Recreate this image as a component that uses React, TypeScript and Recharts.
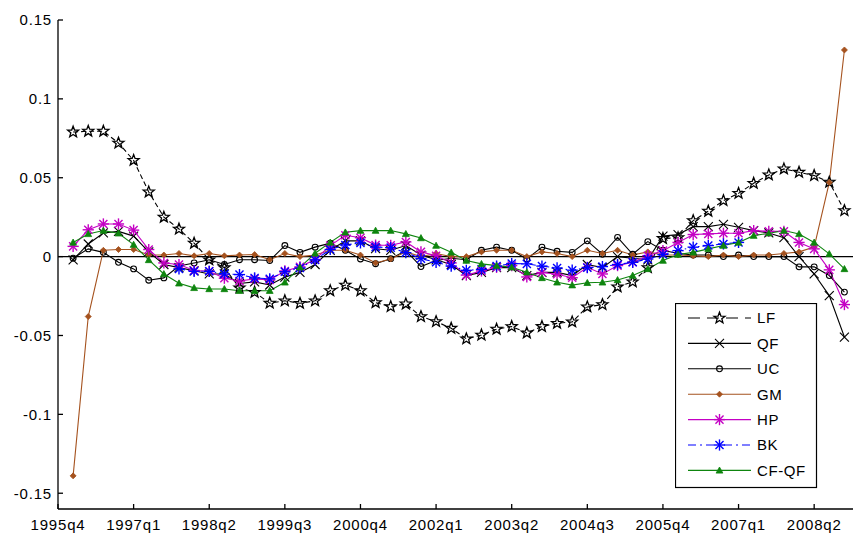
import React from 'react';
import { LineChart, Line, XAxis, YAxis, ReferenceLine, Legend } from 'recharts';

// quarter index 1 = 1996q1 (index 0 = 1995q4)
const quarterIndex = Array.from({ length: 52 }, (_, k) => k + 1);

const xTickPositions = [0, 5, 10, 15, 20, 25, 30, 35, 40, 45, 50];
const xTickLabels = ['1995q4', '1997q1', '1998q2', '1999q3', '2000q4', '2002q1', '2003q2', '2004q3', '2005q4', '2007q1', '2008q2'];
const yTicks = [-0.15, -0.1, -0.05, 0, 0.05, 0.1, 0.15];
const yTickLabels = ['-0.15', '-0.1', '-0.05', '0', '0.05', '0.1', '0.15'];

const lf = [0.079, 0.0795, 0.0795, 0.072, 0.061, 0.041, 0.025, 0.0175, 0.0085, -0.002,
  -0.007, -0.0198, -0.0226, -0.0295, -0.028, -0.0296, -0.028, -0.0216, -0.018, -0.0216,
  -0.0292, -0.0317, -0.030, -0.038, -0.0412, -0.0454, -0.0521, -0.0497, -0.046, -0.0443,
  -0.0484, -0.0443, -0.0423, -0.0414, -0.0319, -0.0304, -0.0192, -0.016, -0.007, 0.0115,
  0.012, 0.0228, 0.0288, 0.0355, 0.0401, 0.0465, 0.0518, 0.0556, 0.0535, 0.0514,
  0.0472, 0.0292];

const qf = [-0.002, 0.008, 0.015, 0.016, 0.013, 0.003, -0.005, -0.007, -0.009, -0.011,
  -0.011, -0.017, -0.016, -0.018, -0.013, -0.010, -0.005, 0.004, 0.010, 0.010,
  0.005, 0.004, 0.007, 0.001, -0.002, -0.005, -0.012, -0.010, -0.007, -0.007,
  -0.012, -0.010, -0.010, -0.012, -0.005, -0.007, 0.000, -0.001, -0.002, 0.013,
  0.014, 0.019, 0.019, 0.0205, 0.0186, 0.0165, 0.015, 0.012, 0.000, -0.011,
  -0.0247, -0.051];

const uc = [-0.001, 0.0049, 0.0027, -0.0036, -0.0078, -0.015, -0.0135, -0.006, -0.004, -0.002,
  -0.005, -0.002, -0.002, -0.0025, 0.007, 0.0027, 0.006, 0.0085, 0.004, -0.0015,
  -0.0045, -0.0013, 0.0038, -0.0063, -0.0025, -0.001, -0.002, 0.004, 0.006, 0.004,
  -0.0015, 0.006, 0.0034, 0.0027, 0.010, 0.0015, 0.0122, 0.0015, 0.0095, 0.004,
  0.002, 0.001, 0.001, 0.000, 0.001, 0.000, 0.000, 0.000, -0.0065, -0.0065,
  -0.012, -0.0225];

const gm = [-0.139, -0.038, 0.004, 0.0045, 0.0045, 0.001, 0.001, 0.002, 0.0005, 0.002,
  0.0005, 0.001, 0.0013, -0.002, 0.002, 0.000, 0.001, 0.004, 0.004, 0.001,
  -0.004, -0.0015, 0.003, 0.000, 0.002, 0.000, 0.000, 0.003, 0.004, 0.004,
  0.000, 0.003, 0.002, 0.000, 0.004, 0.002, 0.004, 0.001, 0.003, 0.001,
  0.001, 0.0005, 0.000, 0.001, 0.000, 0.001, 0.001, 0.002, 0.003, 0.006,
  0.047, 0.131];

const hp = [0.0065, 0.017, 0.0207, 0.0207, 0.0168, 0.0045, -0.004, -0.005, -0.0088, -0.0093,
  -0.0137, -0.0155, -0.0141, -0.0148, -0.0091, -0.0065, -0.0018, 0.007, 0.0135, 0.012,
  0.0073, 0.0072, 0.0093, 0.003, 0.0006, -0.004, -0.0117, -0.0091, -0.0068, -0.0057,
  -0.0129, -0.0101, -0.0112, -0.0134, -0.0068, -0.011, -0.0057, -0.0036, 0.0006, 0.0038,
  0.009, 0.014, 0.0144, 0.0148, 0.0148, 0.0165, 0.016, 0.016, 0.009, 0.0049,
  -0.0084, -0.0304];

const bk = [null, null, null, null, null, null, null, -0.0078, -0.0093, -0.0093,
  -0.011, -0.0114, -0.0135, -0.0141, -0.0096, -0.0072, -0.0021, 0.0045, 0.0074, 0.0087,
  0.006, 0.0057, 0.0025, -0.0013, -0.0036, -0.006, -0.0087, -0.0081, -0.006, -0.0044,
  -0.0046, -0.006, -0.0072, -0.0086, -0.007, -0.0063, -0.005, -0.0036, -0.0015, 0.0013,
  0.0038, 0.006, 0.007, 0.008, 0.009, null, null, null, null, null,
  null, null];

const cfqf = [0.009, 0.0144, 0.0165, 0.0148, 0.0076, -0.0021, -0.011, -0.0169, -0.0198, -0.0205,
  -0.0205, -0.0216, -0.0216, -0.0216, -0.0163, -0.0068, 0.0021, 0.009, 0.0154, 0.0165,
  0.0165, 0.0165, 0.0144, 0.0118, 0.007, 0.0027, -0.0025, -0.0046, -0.0057, -0.0068,
  -0.0099, -0.0135, -0.0163, -0.0181, -0.0166, -0.0163, -0.0148, -0.012, -0.0078, -0.0025,
  0.0013, 0.0027, 0.0049, 0.007, 0.009, 0.0133, 0.0148, 0.0165, 0.0144, 0.009,
  0.0017, -0.0078];

const seriesNames = ['LF', 'QF', 'UC', 'GM', 'HP', 'BK', 'CF-QF'];

const data = quarterIndex.map((t, k) => ({
  t,
  LF: lf[k],
  QF: qf[k],
  UC: uc[k],
  GM: gm[k],
  HP: hp[k],
  BK: bk[k],
  'CF-QF': cfqf[k],
}));

const BROWN = '#A5521E';
const MAGENTA = '#C400C4';
const BLUE = '#0000FF';
const GREEN = '#0E850E';

type MP = { cx: number; cy: number; color: string };

const StarM = ({ cx, cy, color }: MP) => {
  const R = 5.8;
  const r = R * 0.42;
  const pts: string[] = [];
  for (let k = 0; k < 10; k++) {
    const a = -Math.PI / 2 + (k * Math.PI) / 5;
    const rr = k % 2 === 0 ? R : r;
    pts.push(`${(cx + rr * Math.cos(a)).toFixed(2)},${(cy + rr * Math.sin(a)).toFixed(2)}`);
  }
  return <polygon points={pts.join(' ')} fill="none" stroke={color} strokeWidth={1.3} />;
};

const XM = ({ cx, cy, color }: MP) => {
  const h = 4.5;
  return (
    <g stroke={color} strokeWidth={1.1}>
      <line x1={cx - h} y1={cy - h} x2={cx + h} y2={cy + h} />
      <line x1={cx - h} y1={cy + h} x2={cx + h} y2={cy - h} />
    </g>
  );
};

const CircleM = ({ cx, cy, color }: MP) => (
  <circle cx={cx} cy={cy} r={2.9} fill="none" stroke={color} strokeWidth={1.1} />
);

const DiamondM = ({ cx, cy, color }: MP) => {
  const h = 3;
  return <polygon points={`${cx},${cy - h} ${cx + h},${cy} ${cx},${cy + h} ${cx - h},${cy}`} fill={color} stroke={color} strokeWidth={0.8} />;
};

const AsteriskM = ({ cx, cy, color }: MP) => {
  const h = 5.6;
  const d = h * 0.72;
  return (
    <g stroke={color} strokeWidth={1.4}>
      <line x1={cx - h} y1={cy} x2={cx + h} y2={cy} />
      <line x1={cx} y1={cy - h} x2={cx} y2={cy + h} />
      <line x1={cx - d} y1={cy - d} x2={cx + d} y2={cy + d} />
      <line x1={cx - d} y1={cy + d} x2={cx + d} y2={cy - d} />
    </g>
  );
};

const TriM = ({ cx, cy, color }: MP) => {
  const h = 3.4;
  return <polygon points={`${cx},${cy - h} ${cx + h},${cy + h * 0.8} ${cx - h},${cy + h * 0.8}`} fill={color} stroke={color} strokeWidth={0.8} />;
};

const makeDot = (Shape: any, color: string, name: string) => (p: any) => {
  const key = `${name}-${p.index}`;
  if (p.cx == null || p.cy == null || !Number.isFinite(p.cx) || !Number.isFinite(p.cy) || p.value == null) {
    return <g key={key} />;
  }
  return (
    <g key={key}>
      <Shape cx={p.cx} cy={p.cy} color={color} />
    </g>
  );
};

const styleOf: Record<string, { color: string; shape: any; dash?: string; legendDash?: string }> = {
  LF: { color: '#000', shape: StarM, dash: '5 3', legendDash: '12 7' },
  QF: { color: '#000', shape: XM },
  UC: { color: '#000', shape: CircleM },
  GM: { color: BROWN, shape: DiamondM },
  HP: { color: MAGENTA, shape: AsteriskM },
  BK: { color: BLUE, shape: AsteriskM, dash: '6 3 1.5 3', legendDash: '8 4 2 4' },
  'CF-QF': { color: GREEN, shape: TriM },
};

const FONT = "'Liberation Sans', Arial, sans-serif";

const renderLegend = () => {
  const w = 141;
  const h = 184;
  return (
    <svg width={w + 2} height={h + 2} style={{ display: 'block' }}>
      <rect x={0.5} y={0.5} width={w} height={h} fill="#fff" stroke="#000" strokeWidth={1.2} />
      {seriesNames.map((name, k) => {
        const s = styleOf[name];
        const y = 15 + k * 25.4;
        return (
          <g key={name}>
            <line x1={13} y1={y} x2={76} y2={y} stroke={s.color} strokeWidth={1.1} strokeDasharray={s.legendDash} />
            <s.shape cx={44.5} cy={y} color={s.color} />
            <text x={82} y={y} dy="0.36em" fontSize={15} fontFamily={FONT} fill="#000" letterSpacing={0.6}>
              {name}
            </text>
          </g>
        );
      })}
    </svg>
  );
};

const tickStyle = { fill: '#000', fontSize: 15, fontFamily: FONT, letterSpacing: 0.8 };

export default function App() {
  return (
    <div style={{ position: 'absolute', left: 0, top: 0, width: 853, height: 535, overflow: 'hidden', background: '#fff' }}>
      <LineChart width={870} height={535} data={data} margin={{ top: 20, right: 15, bottom: 0, left: 0 }}>
        <XAxis
          xAxisId="b"
          type="number"
          dataKey="t"
          domain={[0, 52.7]}
          allowDataOverflow
          ticks={xTickPositions}
          interval={0}
          tickFormatter={(v: number) => xTickLabels[xTickPositions.indexOf(v)] ?? ''}
          height={26}
          tickSize={-5}
          tickMargin={15}
          axisLine={{ stroke: '#000', strokeWidth: 1.3 }}
          tickLine={{ stroke: '#000', strokeWidth: 1.3 }}
          tick={tickStyle}
        />
        <XAxis
          xAxisId="top"
          orientation="top"
          type="number"
          dataKey="t"
          domain={[0, 52.7]}
          allowDataOverflow
          ticks={xTickPositions}
          interval={0}
          height={0}
          tickSize={-5}
          tick={false}
          axisLine={{ stroke: '#000', strokeWidth: 1.3 }}
          tickLine={{ stroke: '#000', strokeWidth: 1.3 }}
        />
        <YAxis
          yAxisId="l"
          type="number"
          domain={[-0.16, 0.15]}
          allowDataOverflow
          ticks={yTicks}
          interval={0}
          tickFormatter={(v: number) => yTickLabels[yTicks.indexOf(v)] ?? String(v)}
          width={58}
          tickSize={-5}
          tickMargin={11}
          axisLine={{ stroke: '#000', strokeWidth: 1.3 }}
          tickLine={{ stroke: '#000', strokeWidth: 1.3 }}
          tick={tickStyle}
        />
        <YAxis
          yAxisId="r"
          orientation="right"
          type="number"
          domain={[-0.16, 0.15]}
          allowDataOverflow
          ticks={yTicks}
          interval={0}
          width={0}
          tickSize={-5}
          tick={false}
          axisLine={{ stroke: '#000', strokeWidth: 1.3 }}
          tickLine={{ stroke: '#000', strokeWidth: 1.3 }}
        />
        <ReferenceLine xAxisId="b" yAxisId="l" y={0} stroke="#000" strokeWidth={1.4} />
        {seriesNames.map((name) => {
          const s = styleOf[name];
          return (
            <Line
              key={name}
              xAxisId="b"
              yAxisId="l"
              type="linear"
              dataKey={name}
              stroke={s.color}
              strokeWidth={1.1}
              strokeDasharray={s.dash}
              dot={makeDot(s.shape, s.color, name)}
              activeDot={false}
              isAnimationActive={false}
              connectNulls={false}
            />
          );
        })}
        <Legend
          layout="vertical"
          verticalAlign="middle"
          align="center"
          content={renderLegend}
          wrapperStyle={{ left: 675, top: 303, width: 143, height: 186 }}
        />
      </LineChart>
    </div>
  );
}
